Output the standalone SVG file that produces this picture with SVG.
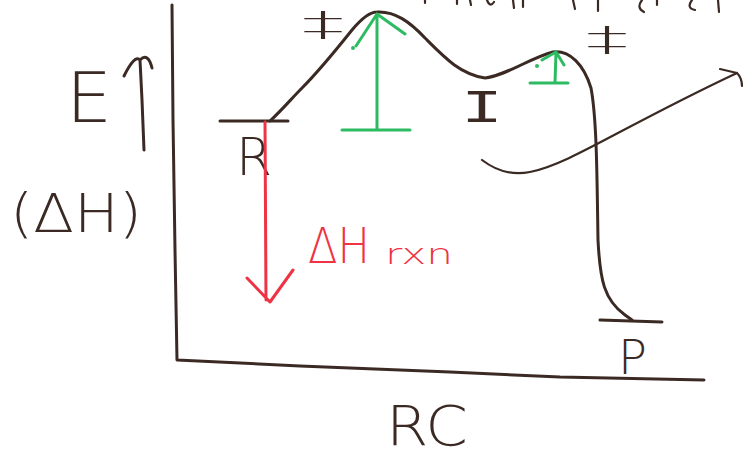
<svg xmlns="http://www.w3.org/2000/svg" width="748" height="458" viewBox="0 0 748 458">
<style>
.ink{fill:none;stroke:#3b2a24;stroke-width:3;stroke-linecap:round;stroke-linejoin:round}
.thin{fill:none;stroke:#3b2a24;stroke-width:2.2;stroke-linecap:round;stroke-linejoin:round}
.green{fill:none;stroke:#2dbb62;stroke-width:3;stroke-linecap:round;stroke-linejoin:round}
.red{fill:none;stroke:#ee3344;stroke-width:3;stroke-linecap:round;stroke-linejoin:round}
.t{font-family:"DejaVu Sans","Liberation Sans",sans-serif;font-weight:200;fill:#3b2a24}
.ts{font-family:"DejaVu Sans","Liberation Sans",sans-serif;font-weight:200;fill:#3b2a24;font-size:34px}
.rt{font-family:"DejaVu Sans","Liberation Sans",sans-serif;font-weight:200;fill:#ee3344}
.mono{font-family:"Liberation Mono","DejaVu Sans Mono",monospace;fill:#3b2a24}
</style>
<rect width="748" height="458" fill="#ffffff"/>
<g id="cutoff-marks" class="thin">
<path d="M425 0 L425 3 M457 0 L457 4 M470 0 L471 5 M487 0 Q490 8 494 2 M513 0 L514 8 M523 0 L523 7 M573 0 L575 9 M598 0 L598 11 M642 0 Q636 8 644 12 M657 0 L657 5 M692 0 Q686 8 695 10 M718 0 L719 12"/>
</g>
<g id="axes">
<path class="ink" d="M172 5 L173 120 L175 250 L177 360 L300 366 L450 372 L560 377 L704 380"/>
<text class="t" x="66" y="122" font-size="70" textLength="46" lengthAdjust="spacingAndGlyphs">E</text>
<path class="ink" d="M144 150 L142 100 L140 60 Q135 54 124 76 M140 60 Q148 52 152 68"/>
<text class="t" x="10" y="232" font-size="54" textLength="132" lengthAdjust="spacingAndGlyphs">(ΔH)</text>
<text class="t" x="386" y="445" font-size="56" textLength="82" lengthAdjust="spacingAndGlyphs">RC</text>
</g>
<g id="R">
<path class="ink" d="M220 121 L288 121"/>
<text class="t" x="236" y="175" font-size="52">R</text>
</g>
<g id="TS1">
<text class="ts" x="302" y="36" textLength="42" lengthAdjust="spacingAndGlyphs">‡</text>
</g>
<g id="I">
<text class="mono" x="461" y="122" font-size="47" textLength="42" lengthAdjust="spacingAndGlyphs">I</text>
</g>
<g id="TS2">
<text class="ts" x="586" y="51" textLength="42" lengthAdjust="spacingAndGlyphs">‡</text>
</g>
<g id="P">
<path class="ink" d="M600 320 L662 322"/>
<text class="t" x="618" y="374" font-size="48">P</text>
</g>
<g id="connectors">
<path class="ink" d="M270 121 C282 110 292 98 302 88 C318 72 336 50 352 30 C362 18 370 12 377 12 C395 11 410 22 425 38 C445 58 460 74 485 78 C505 76 530 58 553 52 C570 50 584 65 591 88 C597 120 597 180 598 240 C600 280 604 300 625 315 L632 320"/>
<path class="thin" d="M482 160 C495 170 510 176 530 172 C570 164 620 128 737 73 M720 69 L737 73 Q742 78 742 86"/>
<path class="green" d="M377 130 L377 14 M377 14 L356 46 M377 14 L405 34 M342 130 L410 130 M555 83 L556 52 M556 52 L542 60 M556 52 L564 65 M530 83 L568 83"/>
<circle cx="353" cy="48" r="2" fill="#2dbb62"/>
<circle cx="537" cy="66" r="2" fill="#2dbb62"/>
<path class="red" d="M265 122 L266 300 M247 278 L270 302 L293 270"/>
<text class="rt" x="308" y="263" font-size="50" textLength="62" lengthAdjust="spacingAndGlyphs">ΔH</text>
<text class="rt" x="385" y="264" font-size="28" textLength="68" lengthAdjust="spacingAndGlyphs">rxn</text>
</g>
</svg>
